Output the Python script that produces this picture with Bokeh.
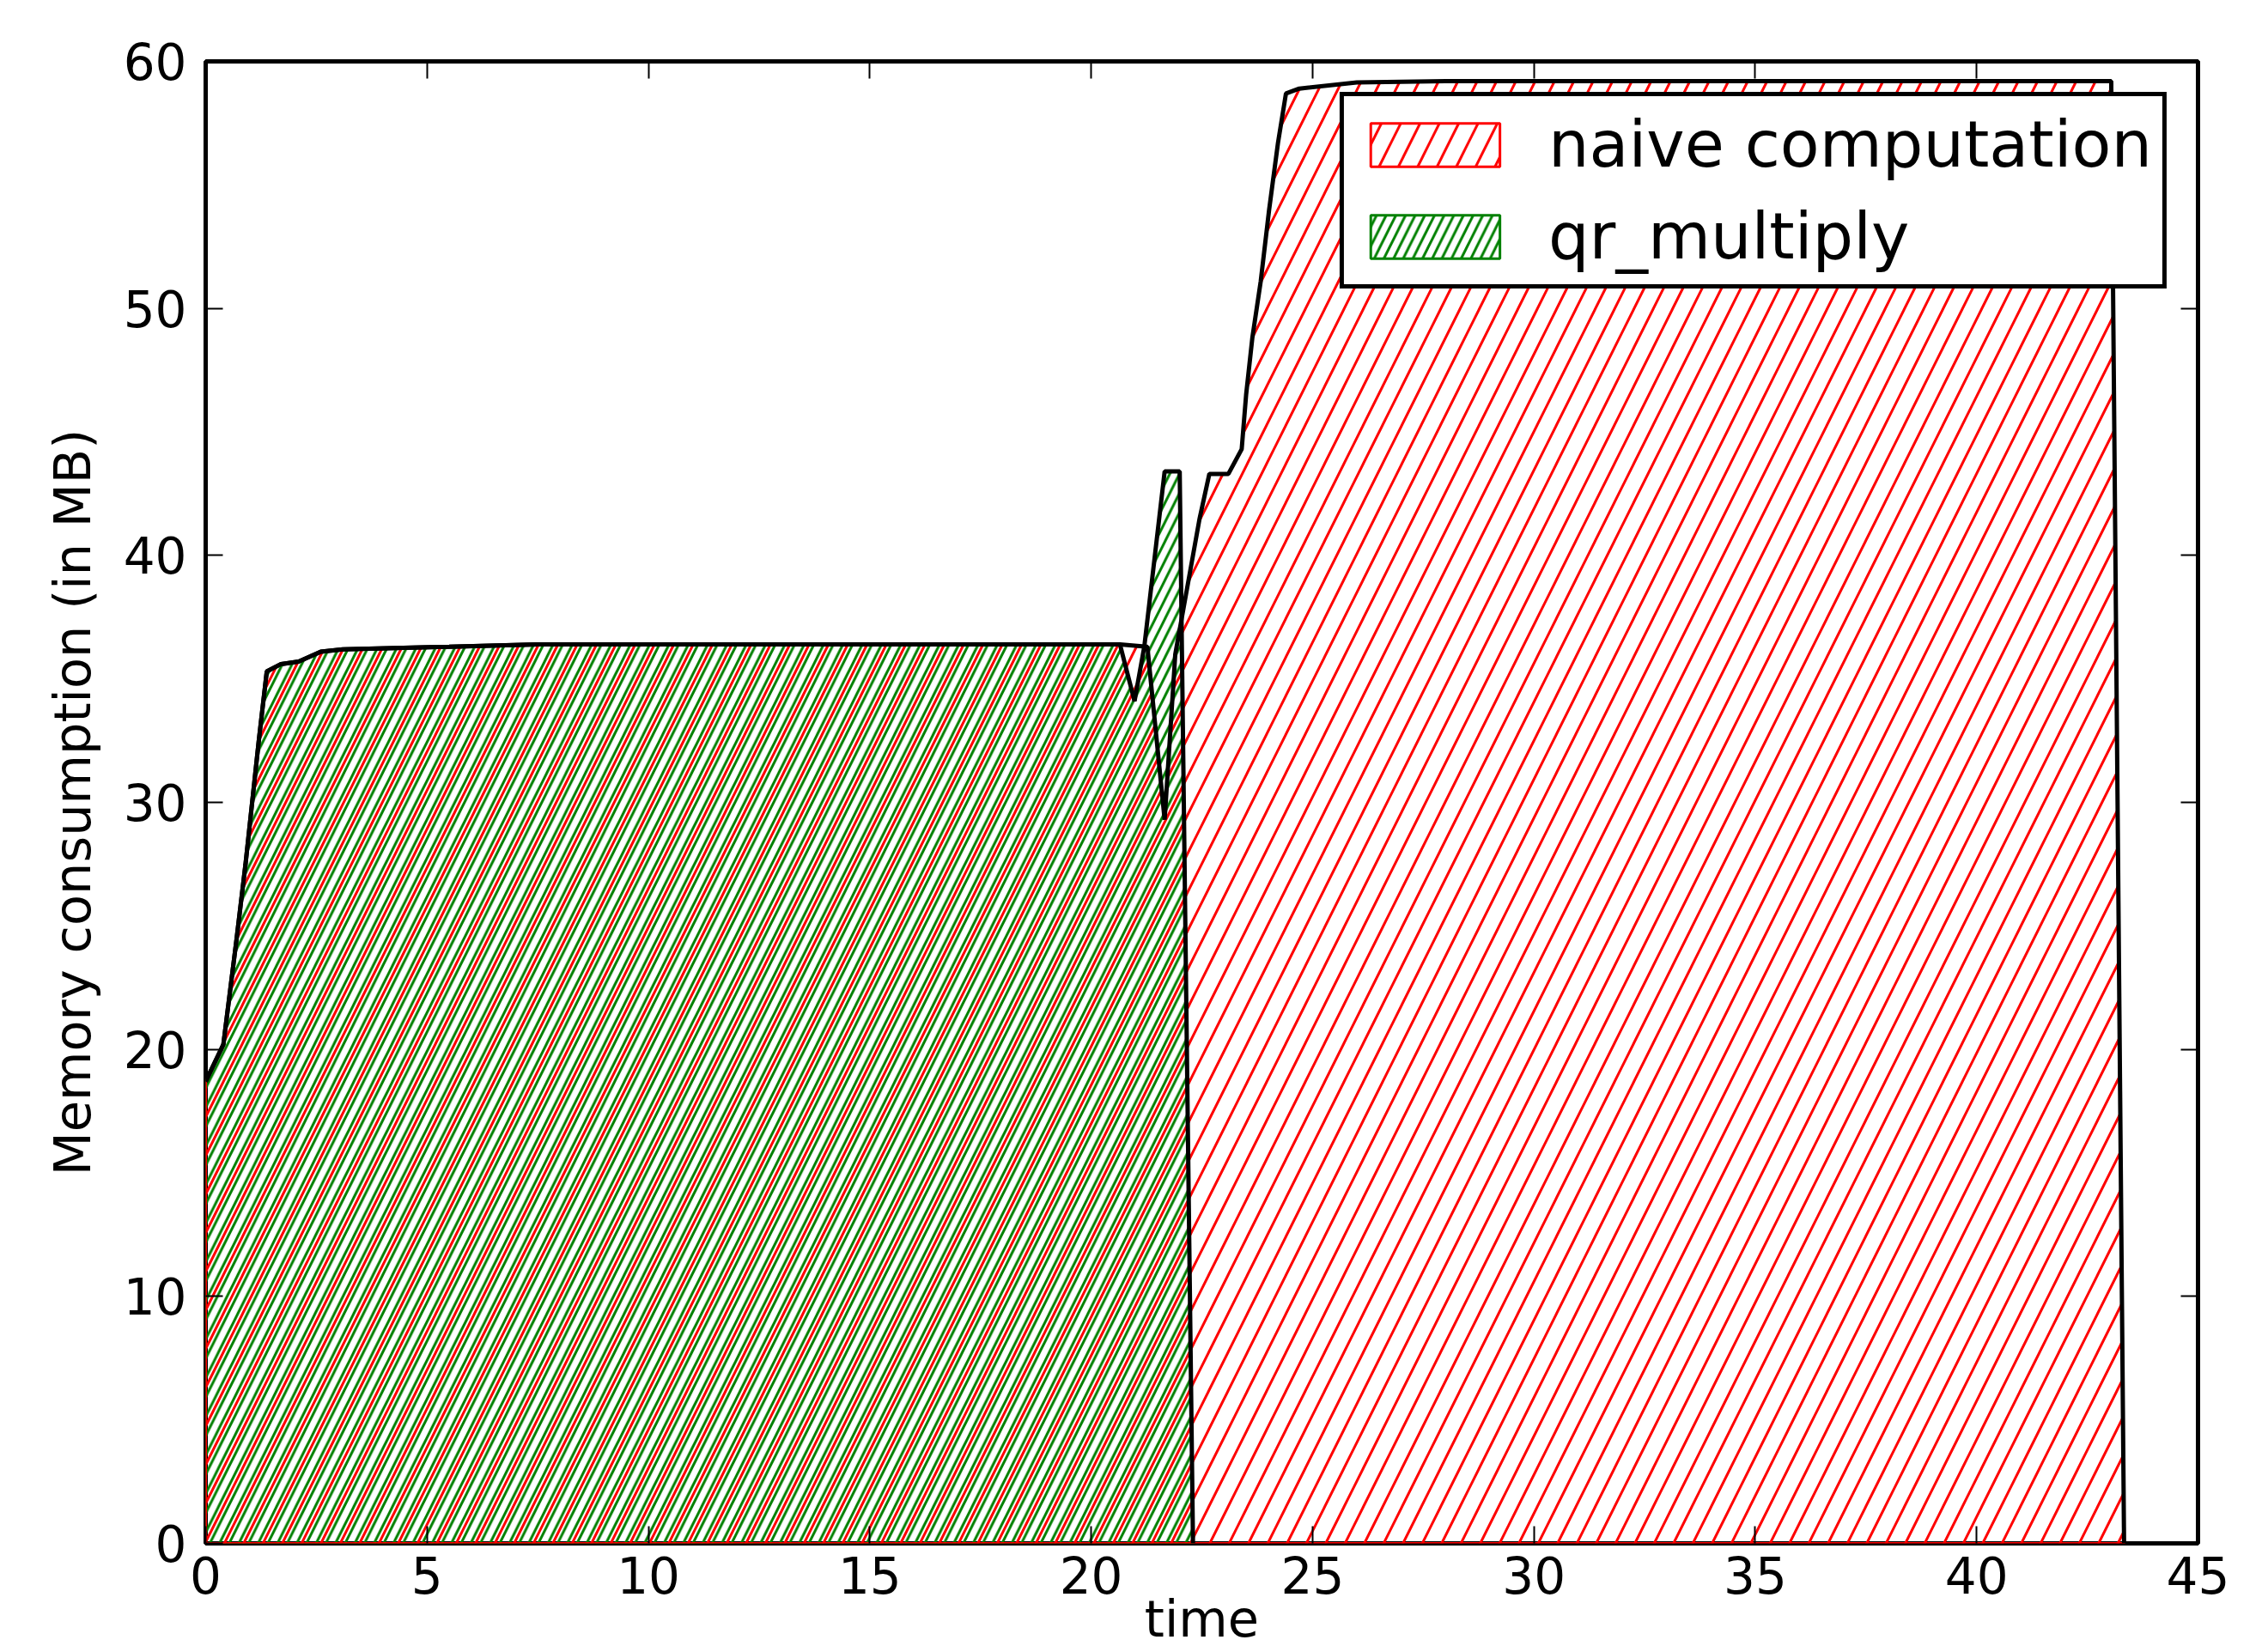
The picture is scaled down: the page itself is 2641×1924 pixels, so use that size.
from bokeh.plotting import figure
from bokeh.models import (Legend, LegendItem, LinearAxis, FixedTicker, Range1d,
                          CustomLabelingPolicy)
from bokeh.embed import file_html
from bokeh.resources import INLINE

# ---- data ----
naive_time = [0.0, 0.4, 0.7, 0.9, 1.05, 1.2, 1.38, 1.7, 2.1, 2.6, 3.1, 5.5, 7.5, 20.65,
              21.27, 21.66, 21.9, 22.14, 22.45, 22.67, 23.1, 23.4, 23.5, 23.64, 23.83,
              24.02, 24.22, 24.4, 24.7, 26.0, 28.0, 43.04, 43.33]
naive_mem = [18.7, 20.2, 24.5, 27.5, 30.0, 32.5, 35.3, 35.6, 35.7, 36.1, 36.2, 36.3, 36.4, 36.4,
             36.3, 29.3, 36.0, 38.4, 41.5, 43.3, 43.3, 44.3, 46.5, 48.8, 51.1,
             54.0, 56.7, 58.7, 58.9, 59.15, 59.2, 59.2, 0.0]

qr_time = [0.0, 0.4, 0.7, 0.9, 1.05, 1.2, 1.38, 1.7, 2.1, 2.6, 3.1, 5.5, 7.5, 20.65,
           20.98, 21.2, 21.66, 22.0, 22.3]
qr_mem = [18.7, 20.2, 24.5, 27.5, 30.0, 32.5, 35.3, 35.6, 35.7, 36.1, 36.2, 36.3, 36.4, 36.4,
          34.1, 36.3, 43.4, 43.4, 0.0]

x_ticks = [0, 5, 10, 15, 20, 25, 30, 35, 40, 45]
y_ticks = [0, 10, 20, 30, 40, 50, 60]
series_labels = ["naive computation", "qr_multiply"]
x_title = "time"
y_title = "Memory consumption (in MB)"

FONT = "DejaVu Sans"

p = figure(width=2620, height=1924, output_backend="svg", toolbar_location=None,
           x_range=Range1d(0, 45), y_range=Range1d(0, 60),
           min_border_left=239, min_border_right=61, min_border_top=71, min_border_bottom=127,
           background_fill_color="white", border_fill_color="white")
p.grid.visible = False
p.outline_line_color = "black"
p.outline_line_width = 5

# hatched areas (green below, red above so that the hatches alternate)
qr_patch = p.patch([0] + qr_time, [0] + qr_mem, fill_color=None,
                   line_color="green", line_width=3,
                   hatch_pattern="/", hatch_color="green", hatch_scale=22.5, hatch_weight=3)
naive_patch = p.patch([0] + naive_time, [0] + naive_mem, fill_color=None,
                      line_color="red", line_width=3,
                      hatch_pattern="/", hatch_color="red", hatch_scale=45, hatch_weight=3)

# black outlines
p.line(qr_time, qr_mem, line_color="black", line_width=5)
p.line(naive_time, naive_mem, line_color="black", line_width=5)

for ax in p.xaxis:
    ax.ticker = FixedTicker(ticks=x_ticks)
for ax in p.yaxis:
    ax.ticker = FixedTicker(ticks=y_ticks)

for ax in list(p.xaxis) + list(p.yaxis):
    ax.axis_line_color = None
    ax.major_tick_in = 20
    ax.major_tick_out = 0
    ax.major_tick_line_color = "black"
    ax.major_tick_line_width = 2
    ax.minor_tick_line_color = None
    ax.major_label_text_font = FONT
    ax.major_label_text_font_size = "58px"
    ax.major_label_text_color = "black"
    ax.axis_label_text_font = FONT
    ax.axis_label_text_font_size = "59px"
    ax.axis_label_text_font_style = "normal"
    ax.axis_label_text_color = "black"

p.xaxis.major_label_standoff = 15
p.xaxis.axis_label = x_title
p.xaxis.axis_label_standoff = -8
p.yaxis.major_label_standoff = 22
p.yaxis.axis_label = y_title
p.yaxis.axis_label_standoff = 22

# mirrored ticks on top and right (no labels drawn there)
top_ax = LinearAxis(ticker=FixedTicker(ticks=x_ticks))
right_ax = LinearAxis(ticker=FixedTicker(ticks=y_ticks))
for ax in (top_ax, right_ax):
    ax.axis_line_color = None
    ax.major_tick_in = 20
    ax.major_tick_out = 0
    ax.major_tick_line_color = "black"
    ax.major_tick_line_width = 2
    ax.minor_tick_line_color = None
    ax.major_label_text_font_size = "1px"
    ax.major_label_standoff = 0
    ax.major_label_policy = CustomLabelingPolicy(code="return []")
p.add_layout(top_ax, "above")
p.add_layout(right_ax, "right")

legend = Legend(items=[LegendItem(label=series_labels[0], renderers=[naive_patch]),
                       LegendItem(label=series_labels[1], renderers=[qr_patch])],
                location="top_right", margin=36, padding=12, spacing=19,
                glyph_width=188, glyph_height=63, label_standoff=38,
                label_text_font=FONT, label_text_font_size="75px", label_text_color="black",
                border_line_color="black", border_line_width=5, border_line_alpha=1.0,
                background_fill_color="white", background_fill_alpha=1.0)
p.add_layout(legend)

open("out.html", "w").write(file_html(p, INLINE))
